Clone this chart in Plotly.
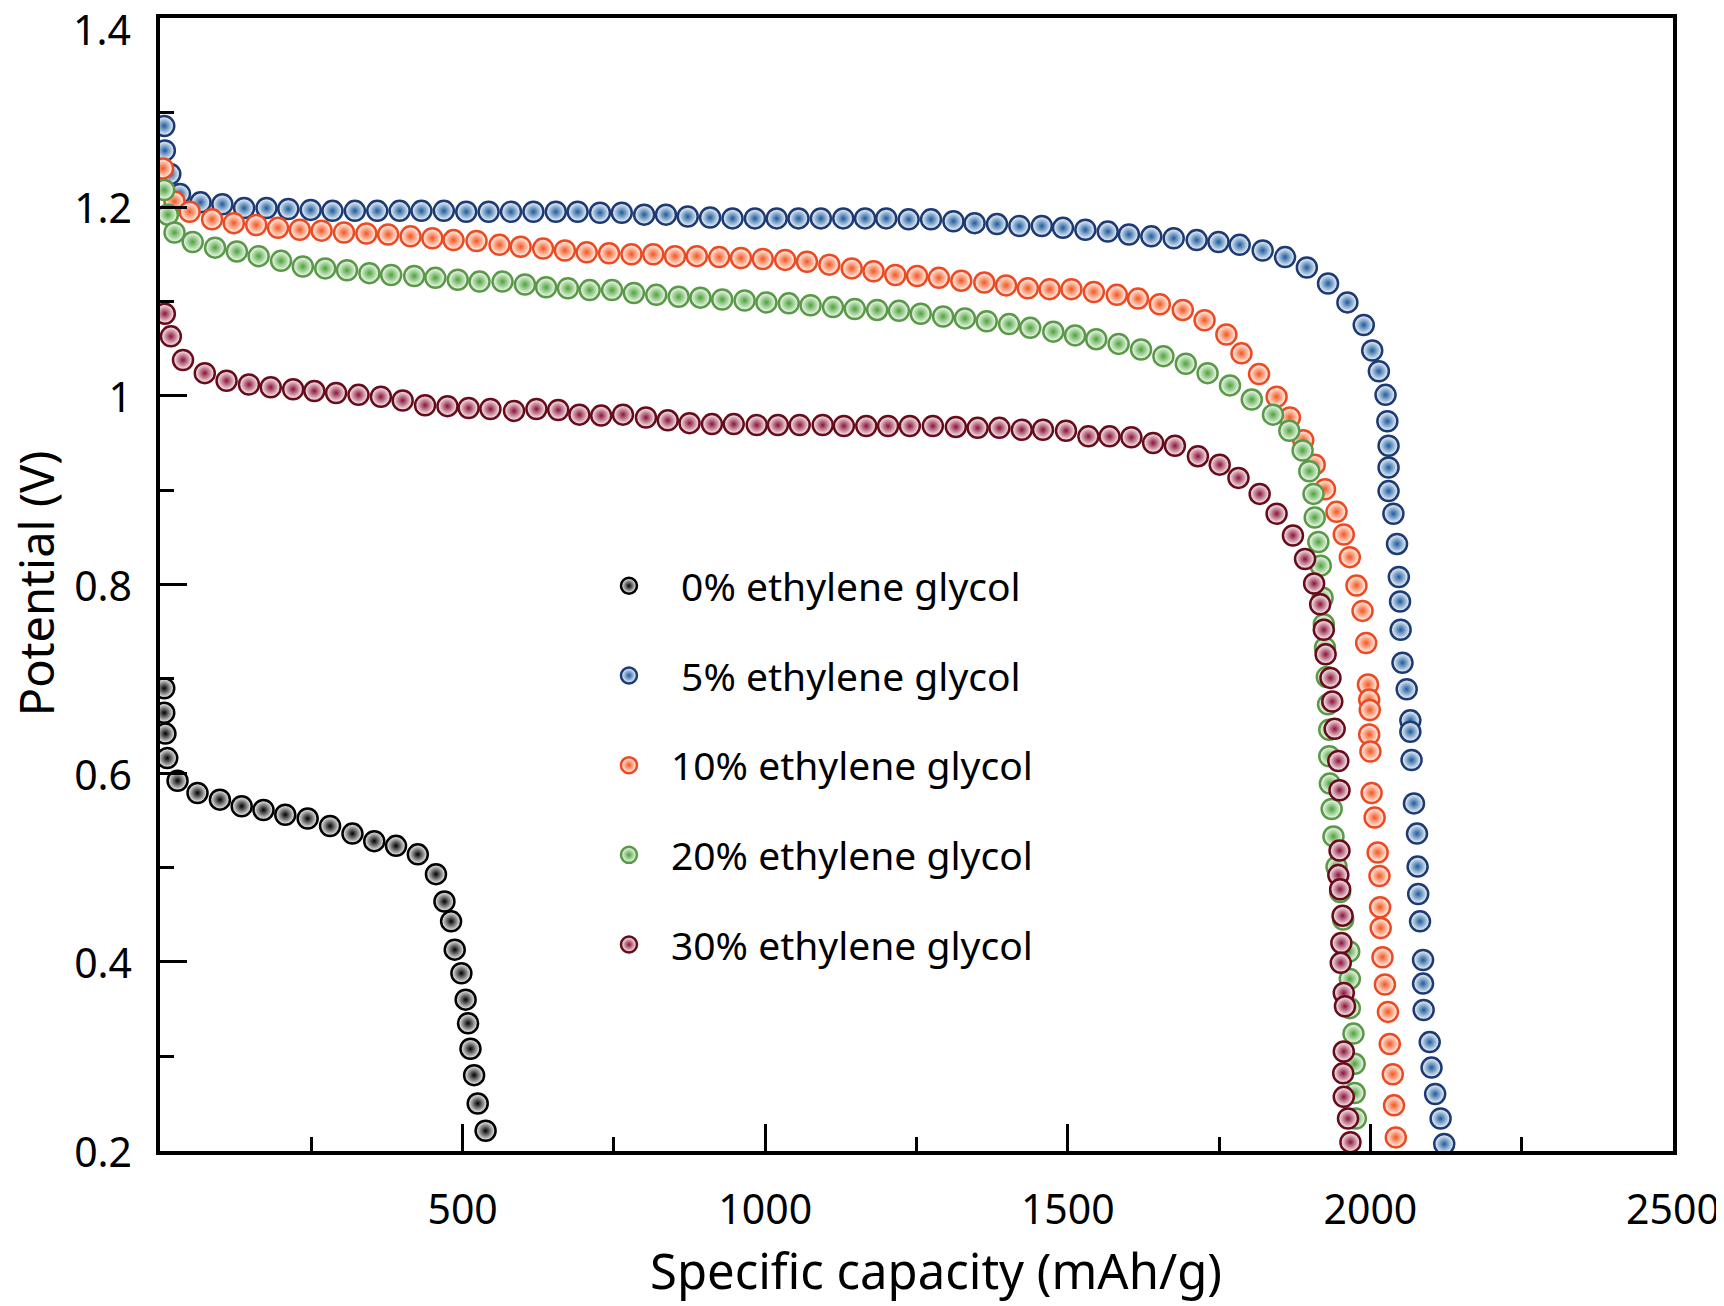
"""Discharge curves of the Al-air cells for different ethylene glycol contents."""

import plotly.graph_objects as go

# --------------------------------------------------------------------------- #
# Data (specific capacity in mAh/g, potential in V)
# --------------------------------------------------------------------------- #
CAP_0 = [7, 7, 9, 12, 29, 62, 99, 135, 171, 207, 244, 281, 318, 354, 390, 426,
         456, 470, 481, 487, 498, 505, 509, 513, 519, 525, 538]
POT_0 = [0.690, 0.664, 0.642, 0.616, 0.592, 0.579, 0.572, 0.565, 0.561, 0.556,
         0.552, 0.544, 0.536, 0.528, 0.523, 0.514, 0.493, 0.464, 0.443, 0.413,
         0.388, 0.360, 0.335, 0.308, 0.280, 0.250, 0.221]

CAP_5 = [7, 8, 17, 33, 67, 103, 139, 176, 212, 249, 285, 322, 359, 396, 432,
         469, 506, 543, 580, 617, 654, 690, 727, 763, 800, 836, 872, 909, 946,
         983, 1019, 1055, 1092, 1129, 1165, 1200, 1237, 1274, 1311, 1346, 1383,
         1420, 1457, 1492, 1529, 1566, 1601, 1638, 1675, 1713, 1749, 1784, 1822,
         1859, 1895, 1930, 1962, 1989, 2003, 2014, 2025, 2028, 2030, 2030, 2030,
         2038, 2044, 2047, 2049, 2050, 2053, 2060, 2066, 2066, 2068, 2072, 2077,
         2078, 2079, 2082, 2087, 2087, 2088, 2098, 2101, 2107, 2116, 2122]
POT_5 = [1.286, 1.260, 1.235, 1.214, 1.205, 1.203, 1.199, 1.199, 1.198, 1.197,
         1.196, 1.196, 1.196, 1.196, 1.196, 1.196, 1.195, 1.195, 1.195, 1.195,
         1.195, 1.195, 1.194, 1.194, 1.192, 1.192, 1.190, 1.189, 1.188, 1.188,
         1.188, 1.188, 1.188, 1.188, 1.188, 1.188, 1.187, 1.187, 1.185, 1.183,
         1.182, 1.180, 1.180, 1.178, 1.176, 1.174, 1.171, 1.169, 1.167, 1.165,
         1.163, 1.160, 1.154, 1.147, 1.136, 1.119, 1.099, 1.075, 1.048, 1.026,
         1.001, 0.973, 0.947, 0.924, 0.899, 0.875, 0.843, 0.808, 0.782, 0.752,
         0.717, 0.689, 0.656, 0.644, 0.614, 0.568, 0.536, 0.501, 0.472, 0.443,
         0.402, 0.377, 0.349, 0.315, 0.288, 0.260, 0.234, 0.207]

CAP_10 = [5, 24, 49, 86, 122, 159, 195, 231, 267, 304, 341, 377, 414, 450, 485,
          523, 561, 596, 633, 669, 705, 742, 779, 815, 851, 887, 924, 960, 996,
          1033, 1069, 1106, 1143, 1179, 1215, 1251, 1287, 1324, 1362, 1398, 1434,
          1470, 1506, 1543, 1581, 1616, 1652, 1690, 1726, 1762, 1787, 1816, 1845,
          1867, 1889, 1908, 1925, 1944, 1956, 1966, 1977, 1987, 1993, 1996, 1998,
          1999, 1998, 2000, 2002, 2007, 2012, 2015, 2016, 2017, 2020, 2024, 2029,
          2032, 2037, 2039, 2042]
POT_10 = [1.241, 1.206, 1.195, 1.187, 1.183, 1.181, 1.178, 1.176, 1.175, 1.173,
          1.172, 1.171, 1.169, 1.167, 1.165, 1.164, 1.160, 1.158, 1.156, 1.154,
          1.152, 1.151, 1.150, 1.150, 1.148, 1.148, 1.147, 1.146, 1.145, 1.144,
          1.142, 1.139, 1.135, 1.132, 1.128, 1.127, 1.125, 1.122, 1.120, 1.117,
          1.114, 1.113, 1.113, 1.110, 1.107, 1.103, 1.097, 1.091, 1.080, 1.065,
          1.045, 1.023, 0.999, 0.977, 0.953, 0.927, 0.901, 0.877, 0.853, 0.829,
          0.799, 0.772, 0.738, 0.694, 0.678, 0.667, 0.641, 0.623, 0.579, 0.553,
          0.516, 0.491, 0.458, 0.436, 0.405, 0.376, 0.347, 0.313, 0.281, 0.248,
          0.214]

CAP_20 = [7, 13, 24, 54, 91, 127, 163, 200, 236, 273, 309, 346, 382, 420, 455,
          492, 528, 566, 603, 638, 674, 710, 747, 783, 820, 857, 893, 929, 966,
          1002, 1039, 1075, 1112, 1148, 1185, 1221, 1257, 1294, 1330, 1366, 1403,
          1438, 1476, 1512, 1547, 1584, 1621, 1658, 1695, 1731, 1768, 1804, 1839,
          1866, 1888, 1899, 1906, 1908, 1914, 1918, 1921, 1923, 1925, 1928, 1930,
          1932, 1932, 1933, 1936, 1939, 1944, 1950, 1955, 1965, 1966, 1966, 1972,
          1974, 1974, 1976]
POT_20 = [1.218, 1.192, 1.173, 1.163, 1.157, 1.153, 1.148, 1.143, 1.137, 1.135,
          1.133, 1.130, 1.128, 1.127, 1.125, 1.123, 1.121, 1.121, 1.118, 1.115,
          1.114, 1.112, 1.112, 1.109, 1.107, 1.105, 1.104, 1.102, 1.101, 1.099,
          1.098, 1.096, 1.094, 1.092, 1.091, 1.090, 1.087, 1.084, 1.082, 1.079,
          1.076, 1.072, 1.068, 1.064, 1.060, 1.055, 1.049, 1.042, 1.034, 1.024,
          1.011, 0.996, 0.980, 0.963, 0.942, 0.920, 0.896, 0.871, 0.845, 0.820,
          0.786, 0.758, 0.733, 0.702, 0.673, 0.646, 0.618, 0.589, 0.562, 0.533,
          0.501, 0.474, 0.445, 0.411, 0.382, 0.351, 0.324, 0.292, 0.261, 0.234]

CAP_30 = [8, 18, 38, 74, 110, 147, 183, 220, 255, 291, 328, 365, 401, 438, 475,
          510, 546, 585, 622, 658, 693, 729, 765, 803, 839, 875, 912, 948, 986,
          1021, 1057, 1095, 1130, 1167, 1203, 1239, 1277, 1315, 1351, 1387, 1424,
          1459, 1497, 1534, 1569, 1605, 1641, 1677, 1715, 1751, 1782, 1817, 1845,
          1872, 1892, 1907, 1917, 1923, 1926, 1934, 1937, 1941, 1947, 1949, 1949,
          1947, 1950, 1954, 1952, 1951, 1956, 1958, 1956, 1955, 1956, 1963, 1967]
POT_30 = [1.087, 1.063, 1.038, 1.024, 1.016, 1.012, 1.009, 1.007, 1.005, 1.003,
          1.001, 0.999, 0.995, 0.990, 0.989, 0.987, 0.986, 0.984, 0.986, 0.985,
          0.980, 0.979, 0.980, 0.977, 0.974, 0.971, 0.970, 0.970, 0.969, 0.969,
          0.969, 0.969, 0.968, 0.968, 0.968, 0.968, 0.968, 0.967, 0.966, 0.966,
          0.964, 0.964, 0.963, 0.957, 0.957, 0.956, 0.950, 0.947, 0.936, 0.927,
          0.913, 0.896, 0.875, 0.852, 0.827, 0.801, 0.779, 0.752, 0.726, 0.701,
          0.676, 0.647, 0.613, 0.582, 0.518, 0.492, 0.477, 0.449, 0.420, 0.399,
          0.367, 0.353, 0.305, 0.282, 0.257, 0.234, 0.209]

NAMES = ["\u00a00% ethylene glycol", "\u00a05% ethylene glycol",
         "10% ethylene glycol", "20% ethylene glycol", "30% ethylene glycol"]

X_TICKS = [500, 1000, 1500, 2000, 2500]
Y_TICKS = [0.2, 0.4, 0.6, 0.8, 1.0, 1.2, 1.4]
# the top label is drawn separately so that it is not cut by the page edge
Y_TICK_TEXT = ["0.2", "0.4", "0.6", "0.8", "1", "1.2", ""]
Y_TOP_LABEL = "1.4"
X_TITLE = "Specific capacity (mAh/g)"
Y_TITLE = "Potential (V)"

# Shared style: (outline colour, gradient centre colour)
SERIES_COLORS = [
    ("#000000", "#000000"),
    ("#1c3b74", "#1c5c9f"),
    ("#ee4a22", "#f5561e"),
    ("#5a9947", "#4ca43a"),
    ("#680c1c", "#8e1238"),
]
FONT = "Noto Sans"


def main() -> None:
    fig = go.Figure()
    series = [(CAP_0, POT_0), (CAP_5, POT_5), (CAP_10, POT_10),
              (CAP_20, POT_20), (CAP_30, POT_30)]
    for i, ((cap, pot), name, (edge, core)) in enumerate(
            zip(series, NAMES, SERIES_COLORS)):
        fig.add_trace(
            go.Scatter(
                x=cap,
                y=pot,
                name=name,
                mode="markers",
                legendgroup=f"g{i}",
                marker=dict(
                    symbol="circle",
                    size=20,
                    color="white",
                    gradient=dict(type="radial", color=core),
                    line=dict(color=edge, width=2.5),
                ),
            )
        )

    tick_font = dict(family=FONT, size=41, color="black")
    axis_common = dict(
        showline=True,
        linecolor="black",
        linewidth=3.5,
        mirror=True,
        showgrid=False,
        zeroline=False,
        automargin=False,
        ticks="inside",
        ticklen=27,
        tickwidth=3,
        tickcolor="black",
        tickfont=tick_font,
    )

    # the page body adds an 8 px offset, so the figure is 8 px smaller
    fig.update_layout(
        width=1716,
        height=1298,
        paper_bgcolor="white",
        plot_bgcolor="white",
        margin=dict(l=152, r=51, t=10, b=155),
        font=dict(family=FONT, color="black"),
        showlegend=True,
        legend=dict(
            x=0.2822,
            y=0.527,
            xanchor="left",
            yanchor="top",
            bgcolor="rgba(0,0,0,0)",
            font=dict(family=FONT, size=39, color="black"),
            traceorder="grouped",
            tracegroupgap=36,
            itemwidth=74,
        ),
    )
    fig.update_xaxes(
        **axis_common,
        range=[0, 2500],
        tickmode="array",
        tickvals=X_TICKS,
        ticktext=[str(v) for v in X_TICKS],
        minor=dict(dtick=250, tick0=0, ticks="inside", ticklen=14,
                   tickwidth=3, tickcolor="black", showgrid=False),
        ticklabelstandoff=20,
    )
    fig.update_yaxes(
        **axis_common,
        range=[0.1996, 1.4004],
        tickmode="array",
        tickvals=Y_TICKS,
        ticktext=Y_TICK_TEXT,
        ticklabelshift=2,
        minor=dict(dtick=0.1, tick0=0.2, ticks="inside", ticklen=14,
                   tickwidth=3, tickcolor="black", showgrid=False),
        ticklabelstandoff=16,
    )

    fig.add_annotation(
        text=Y_TOP_LABEL, xref="paper", yref="paper", x=0, y=1,
        xanchor="right", yanchor="middle", xshift=-27, yshift=-11,
        showarrow=False, font=tick_font,
    )
    # axis titles as annotations so they can sit as close to the edge as in the original
    fig.add_annotation(
        text=X_TITLE, xref="paper", yref="paper", x=0.513, y=-0.1053,
        xanchor="center", yanchor="middle", showarrow=False,
        font=dict(family=FONT, size=49, color="black"),
    )
    fig.add_annotation(
        text=Y_TITLE, xref="paper", yref="paper", x=-0.0820, y=0.501,
        xanchor="center", yanchor="middle", showarrow=False, textangle=-90,
        font=dict(family=FONT, size=47, color="black"),
    )

    fig.write_html("out.html")


if __name__ == "__main__":
    main()
